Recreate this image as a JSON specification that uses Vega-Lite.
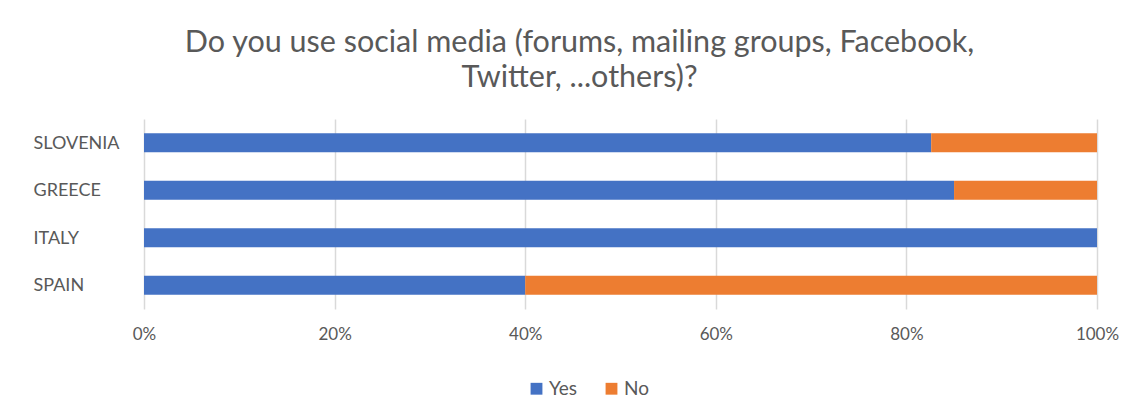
{
  "$schema": "https://vega.github.io/schema/vega-lite/v6.json",
  "width": 953,
  "height": 190,
  "autosize": "none",
  "padding": {"left": 144, "top": 119, "right": 36, "bottom": 105},
  "background": "white",
  "title": {
    "text": ["Do you use social media (forums, mailing groups, Facebook,", "Twitter, ...others)?"],
    "font": "Lato",
    "fontSize": 30.5,
    "fontWeight": "normal",
    "color": "#595959",
    "anchor": "middle",
    "dx": -41,
    "offset": 26,
    "lineHeight": 35
  },
  "data": {
    "values": [
      {"country": "SLOVENIA", "answer": "Yes", "value": 82.6},
      {"country": "SLOVENIA", "answer": "No", "value": 17.4},
      {"country": "GREECE", "answer": "Yes", "value": 85},
      {"country": "GREECE", "answer": "No", "value": 15},
      {"country": "ITALY", "answer": "Yes", "value": 100},
      {"country": "ITALY", "answer": "No", "value": 0},
      {"country": "SPAIN", "answer": "Yes", "value": 40},
      {"country": "SPAIN", "answer": "No", "value": 60}
    ]
  },
  "mark": {"type": "bar"},
  "encoding": {
    "y": {
      "field": "country",
      "type": "nominal",
      "sort": ["SLOVENIA", "GREECE", "ITALY", "SPAIN"],
      "scale": {"paddingInner": 0.6, "paddingOuter": 0.3},
      "axis": {
        "title": null,
        "domain": false,
        "ticks": false,
        "labelAlign": "left",
        "labelPadding": 111,
        "labelFont": "Lato",
        "labelFontSize": 18,
        "labelColor": "#595959",
        "labelBaseline": "middle",
        "labelOffset": 1
      }
    },
    "x": {
      "field": "value",
      "type": "quantitative",
      "stack": "normalize",
      "scale": {"domain": [0, 1]},
      "axis": {
        "title": null,
        "format": "%",
        "values": [0, 0.2, 0.4, 0.6, 0.8, 1],
        "domain": false,
        "ticks": false,
        "grid": true,
        "gridColor": "#D9D9D9",
        "gridWidth": 1.5,
        "labelFont": "Lato",
        "labelFontSize": 17,
        "labelColor": "#595959",
        "labelPadding": 17,
        "labelFlush": false
      }
    },
    "color": {
      "field": "answer",
      "type": "nominal",
      "scale": {"domain": ["Yes", "No"], "range": ["#4472C4", "#ED7D31"]},
      "legend": {
        "title": null,
        "orient": "none",
        "direction": "horizontal",
        "legendX": 383,
        "legendY": 260,
        "symbolType": "square",
        "symbolSize": 140,
        "symbolStrokeWidth": 0,
        "labelFont": "Lato",
        "labelFontSize": 19,
        "labelColor": "#595959",
        "labelOffset": 3,
        "columnPadding": 24
      }
    },
    "order": {"field": "answer", "sort": "descending"}
  },
  "config": {"view": {"stroke": null}}
}
